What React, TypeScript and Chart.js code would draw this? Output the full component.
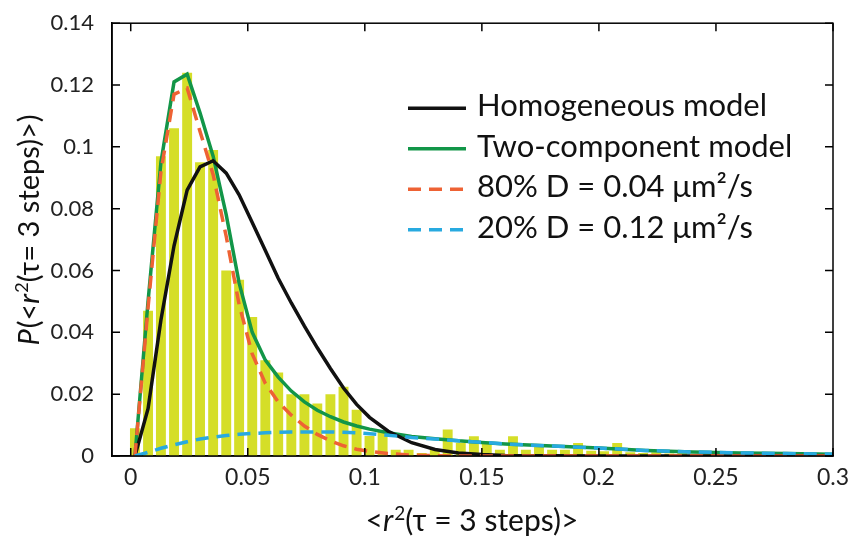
import React, { useEffect, useRef } from 'react';
import { Chart, registerables } from 'chart.js';

Chart.register(...registerables);

// ---------- data ----------
const binCenters = [
  0.0018, 0.0074, 0.0129, 0.0185, 0.0241, 0.0296, 0.0352, 0.0408, 0.0463, 0.0519,
  0.0575, 0.063, 0.0686, 0.0742, 0.0797, 0.0853, 0.0909, 0.0965, 0.102, 0.1076,
  0.1132, 0.1187, 0.1243, 0.1299, 0.1354, 0.141, 0.1466, 0.1521, 0.1577, 0.1633,
  0.1688, 0.1744, 0.18, 0.1855, 0.1911, 0.1967, 0.2022, 0.2078, 0.2134, 0.2189,
  0.2245, 0.2301, 0.2356, 0.2412, 0.2468, 0.2523, 0.2579, 0.2635, 0.269, 0.2746,
  0.2802, 0.2857, 0.2913, 0.2969,
];
const binHeights = [
  0.009, 0.047, 0.097, 0.106, 0.124, 0.095, 0.099, 0.06, 0.057, 0.045,
  0.031, 0.027, 0.02, 0.02, 0.017, 0.02, 0.0224, 0.015, 0.0065, 0.008,
  0.002, 0.002, 0.001, 0.002, 0.0086, 0.0042, 0.0064, 0.0042, 0.002, 0.0064,
  0.002, 0.003, 0.002, 0.002, 0.0042, 0.0017, 0.0015, 0.0042, 0.0012, 0.001,
  0.0012, 0.0008, 0.001, 0.0006, 0.0008, 0.0006, 0.0005, 0.0004, 0.0003, 0.0002,
  0, 0, 0, 0,
];

const curveX = [
  0.0018, 0.0074, 0.0129, 0.0185, 0.0241, 0.0296, 0.0352, 0.0408, 0.0463, 0.0519,
  0.0575, 0.063, 0.0686, 0.0742, 0.0797, 0.0853, 0.0909, 0.0965, 0.102, 0.11,
  0.12, 0.13, 0.14, 0.15, 0.16, 0.18, 0.2, 0.22, 0.24, 0.26, 0.28, 0.3,
];
const homogeneous = [
  0, 0.0153, 0.044, 0.068, 0.086, 0.0935, 0.0955, 0.0915, 0.0845, 0.0755,
  0.0665, 0.0575, 0.0495, 0.042, 0.035, 0.0283, 0.022, 0.0167, 0.0125, 0.008,
  0.0043, 0.0021, 0.001, 0.0005, 0.0002, 0.00005, 0, 0, 0, 0, 0, 0,
];
const twoComponent = [
  0, 0.05, 0.095, 0.121, 0.1235, 0.111, 0.097, 0.078, 0.056, 0.04,
  0.031, 0.0255, 0.021, 0.0175, 0.0148, 0.0127, 0.011, 0.0097, 0.0087, 0.0075,
  0.0063, 0.0056, 0.0049, 0.0044, 0.0039, 0.0032, 0.0026, 0.0018, 0.0013, 0.001, 0.0008, 0.0006,
];
const slowComponent = [
  0, 0.048, 0.092, 0.117, 0.119, 0.105, 0.091, 0.071, 0.049, 0.033,
  0.0235, 0.0175, 0.0132, 0.0097, 0.007, 0.0049, 0.0033, 0.0022, 0.0015, 0.0008,
  0.0003, 0.0001, 0, 0, 0, 0, 0, 0, 0, 0, 0, 0,
];
const fastComponent = [
  0, 0.0012, 0.0025, 0.0036, 0.0046, 0.0055, 0.0061, 0.0066, 0.007, 0.0073,
  0.0075, 0.0077, 0.0078, 0.0078, 0.0078, 0.0078, 0.0077, 0.0075, 0.0072, 0.0067,
  0.006, 0.0055, 0.0049, 0.0044, 0.0039, 0.0032, 0.0026, 0.0018, 0.0013, 0.001, 0.0008, 0.0006,
];

const xTickValues = [0, 0.05, 0.1, 0.15, 0.2, 0.25, 0.3];
const yTickValues = [0, 0.02, 0.04, 0.06, 0.08, 0.1, 0.12, 0.14];
const xTickLabels = ['0', '0.05', '0.1', '0.15', '0.2', '0.25', '0.3'];
const yTickLabels = ['0', '0.02', '0.04', '0.06', '0.08', '0.1', '0.12', '0.14'];

const seriesLabels = [
  'Homogeneous model',
  'Two-component model',
  '80% D = 0.04 \u03bcm\u00b2/s',
  '20% D = 0.12 \u03bcm\u00b2/s',
];

type Seg = { t: string; italic?: boolean; sup?: boolean };
const xTitle: Seg[] = [
  { t: '<' }, { t: 'r', italic: true }, { t: '2', sup: true }, { t: '(\u03c4 = 3 steps)>' },
];
const yTitle: Seg[] = [
  { t: 'P', italic: true }, { t: '(<' }, { t: 'r', italic: true }, { t: '2', sup: true },
  { t: '(\u03c4= 3 steps)>)' },
];

// ---------- styles ----------
const FONT = 'Lato, "Open Sans", "DejaVu Sans", sans-serif';
const BAR_COLOR = 'rgb(213,222,40)';
const BLACK = '#111111';
const GREEN = 'rgb(18,150,72)';
const RED = 'rgb(238,98,52)';
const BLUE = 'rgb(40,170,224)';

function drawSegments(ctx: CanvasRenderingContext2D, segs: Seg[], size: number) {
  const fontFor = (s: Seg) =>
    `${s.italic ? 'italic ' : ''}${s.sup ? Math.round(size * 0.62) : size}px ${FONT}`;
  let total = 0;
  const widths = segs.map((s) => {
    ctx.font = fontFor(s);
    const w = ctx.measureText(s.t).width + (s.italic ? 1 : 0);
    total += w;
    return w;
  });
  let x = -total / 2;
  segs.forEach((s, i) => {
    ctx.font = fontFor(s);
    ctx.textAlign = 'left';
    ctx.textBaseline = 'alphabetic';
    ctx.fillText(s.t, x, s.sup ? -size * 0.38 : 0);
    x += widths[i];
  });
}

const framePlugin = {
  id: 'frame',
  afterDatasetsDraw(chart: any) {
    const { ctx, chartArea: a, scales } = chart;
    ctx.save();
    ctx.strokeStyle = '#000';
    ctx.lineWidth = 1.5;
    ctx.strokeRect(a.left, a.top, a.right - a.left, a.bottom - a.top);
    const L = 8;
    ctx.beginPath();
    scales.x.ticks.forEach((t: any) => {
      const px = scales.x.getPixelForValue(t.value);
      ctx.moveTo(px, a.bottom);
      ctx.lineTo(px, a.bottom - L);
      ctx.moveTo(px, a.top);
      ctx.lineTo(px, a.top + L);
    });
    scales.y.ticks.forEach((t: any) => {
      const py = scales.y.getPixelForValue(t.value);
      ctx.moveTo(a.left, py);
      ctx.lineTo(a.left + L, py);
      ctx.moveTo(a.right, py);
      ctx.lineTo(a.right - L, py);
    });
    ctx.stroke();

    // legend
    const lineDs = chart.data.datasets.filter((d: any) => d.type === 'line');
    const x0 = a.left + 296;
    const x1 = a.left + 354;
    lineDs.forEach((d: any, i: number) => {
      const y = a.top + 85 + i * 40.5;
      ctx.beginPath();
      ctx.strokeStyle = d.borderColor;
      ctx.lineWidth = d.borderWidth;
      ctx.setLineDash(d.borderDash || []);
      ctx.moveTo(x0, y);
      ctx.lineTo(x1, y);
      ctx.stroke();
      ctx.setLineDash([]);
      ctx.fillStyle = '#111';
      ctx.font = `31px ${FONT}`;
      ctx.textAlign = 'left';
      ctx.textBaseline = 'middle';
      ctx.fillText(d.label, a.left + 365, y - 2);
    });
    ctx.restore();
  },
  afterDraw(chart: any) {
    const { ctx } = chart;
    ctx.save();
    ctx.fillStyle = '#111';
    ctx.translate(472, 531);
    drawSegments(ctx, xTitle, 30);
    ctx.restore();
    ctx.save();
    ctx.fillStyle = '#111';
    ctx.translate(39, 230);
    ctx.rotate(-Math.PI / 2);
    drawSegments(ctx, yTitle, 29);
    ctx.restore();
  },
};

export default function App() {
  const ref = useRef<HTMLCanvasElement | null>(null);
  useEffect(() => {
    if (!ref.current) return;
    const pts = (ys: number[]) => curveX.map((x, i) => ({ x, y: ys[i] }));
    const chart = new Chart(ref.current, {
      type: 'bar',
      data: {
        datasets: [
          {
            type: 'line',
            label: seriesLabels[0],
            data: pts(homogeneous),
            borderColor: BLACK,
            borderWidth: 3.5,
            pointRadius: 0,
            tension: 0,
            order: 3,
          } as any,
          {
            type: 'line',
            label: seriesLabels[1],
            data: pts(twoComponent),
            borderColor: GREEN,
            borderWidth: 3.5,
            pointRadius: 0,
            tension: 0,
            order: 4,
          },
          {
            type: 'line',
            label: seriesLabels[2],
            data: pts(slowComponent),
            borderColor: RED,
            borderWidth: 3.5,
            borderDash: [13, 8],
            pointRadius: 0,
            tension: 0,
            order: 2,
          },
          {
            type: 'line',
            label: seriesLabels[3],
            data: pts(fastComponent),
            borderColor: BLUE,
            borderWidth: 3.5,
            borderDash: [13, 8],
            pointRadius: 0,
            tension: 0,
            order: 1,
          },
          {
            type: 'bar',
            label: 'histogram',
            data: binCenters.map((x, i) => ({ x, y: binHeights[i] })),
            backgroundColor: BAR_COLOR,
            borderWidth: 0,
            categoryPercentage: 1,
            barPercentage: 0.77,
            order: 10,
          },
        ],
      },
      options: {
        responsive: false,
        animation: false,
        devicePixelRatio: 1,
        layout: { padding: { left: 0, right: 18, top: 16, bottom: 0 } },
        plugins: { legend: { display: false }, tooltip: { enabled: false } },
        scales: {
          x: {
            type: 'linear',
            min: -0.008,
            max: 0.3,
            offset: false,
            grid: { display: false },
            border: { display: true, color: '#000', width: 1.5 },
            afterBuildTicks: (s: any) => {
              s.ticks = xTickValues.map((v) => ({ value: v }));
            },
            afterFit: (s: any) => {
              s.height = 92;
            },
            ticks: {
              padding: 0,
              color: '#222',
              font: { family: FONT, size: 23 },
              maxRotation: 0,
              callback: (v: any) => {
                const i = xTickValues.indexOf(Number(v));
                return i >= 0 ? xTickLabels[i] : '';
              },
            },
          },
          y: {
            type: 'linear',
            min: 0,
            max: 0.14,
            grid: { display: false },
            border: { display: true, color: '#000', width: 1.5 },
            afterBuildTicks: (s: any) => {
              s.ticks = yTickValues.map((v) => ({ value: v }));
            },
            afterFit: (s: any) => {
              s.width = 112;
            },
            ticks: {
              padding: 10,
              color: '#222',
              font: { family: FONT, size: 22 },
              callback: (v: any) => {
                const i = yTickValues.indexOf(Number(v));
                return i >= 0 ? yTickLabels[i] : '';
              },
            },
          },
        },
      },
      plugins: [framePlugin],
    });
    return () => chart.destroy();
  }, []);
  return (
    <div style={{ position: 'fixed', left: 0, top: 0, width: 851, height: 548, background: '#fff' }}>
      <canvas ref={ref} width={851} height={548} style={{ width: 851, height: 548, display: 'block' }} />
    </div>
  );
}
